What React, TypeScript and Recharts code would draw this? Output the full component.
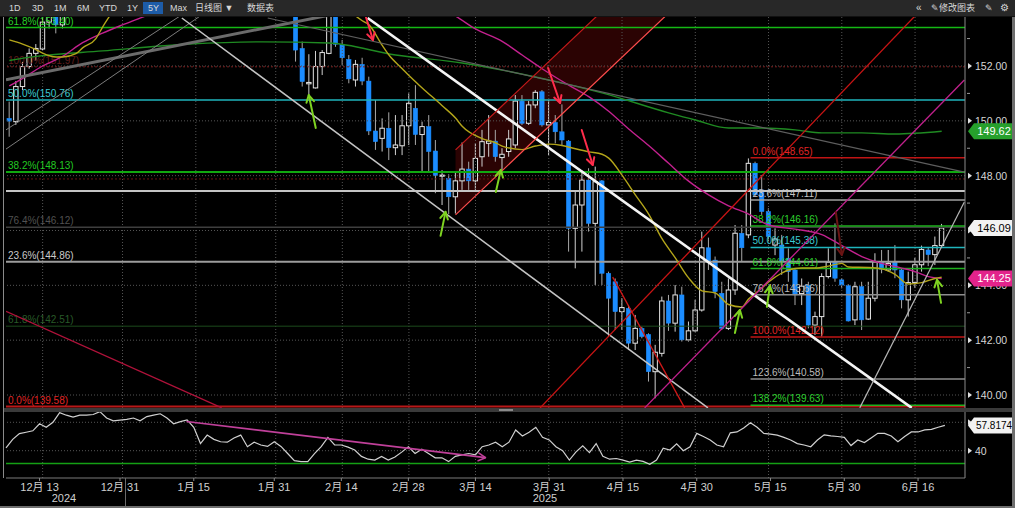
import React from 'react';
import {
  ComposedChart,
  Bar,
  Line,
  Area,
  XAxis,
  YAxis,
  ReferenceLine,
  ReferenceDot,
} from 'recharts';

// daily bars, one per weekday, 6 Dec 2024 .. 20 Jun 2025 (index 0..140)
const opens = [
  150.09, 149.97, 151.25, 151.98, 152.46, 152.62, 153.6, 154.1, 153.5, 154.8,
  157.4, 156.4, 157.1, 157.2, 157.1, 157.8, 157.9, 157.0, 157.2, 157.2,
  157.5, 157.3, 157.6, 158.0, 158.3, 158.1, 157.7, 157.5, 158.0, 156.5,
  155.2, 156.3, 155.6, 155.5, 156.6, 156.5, 156.0, 154.6, 155.5, 155.2,
  154.3, 155.2, 154.6, 154.3, 152.64, 151.35, 151.2, 151.98, 152.46, 154.3,
  152.79, 152.24, 151.49, 152.06, 151.45, 149.63, 149.36, 149.73, 149.02, 149.09,
  149.82, 150.46, 149.5, 149.79, 148.9, 147.98, 147.9, 147.23, 147.81, 148.24,
  147.81, 148.69, 149.18, 149.26, 148.66, 148.88, 149.12, 150.72, 149.91, 150.58,
  151.06, 149.85, 149.94, 149.6, 149.26, 146.08, 146.93, 147.84, 146.26, 147.81,
  144.44, 144.13, 143.04, 143.16, 141.89, 142.43, 142.21, 140.85, 141.52, 143.43,
  142.62, 143.65, 142.01, 142.34, 143.1, 145.37, 144.92, 143.71, 142.43, 143.83,
  145.9, 145.84, 148.45, 147.48, 146.69, 145.47, 145.47, 144.99, 144.56, 143.7,
  144.01, 142.55, 142.86, 144.32, 144.84, 144.2, 143.99, 142.74, 143.95, 142.77,
  143.53, 144.86, 144.56, 144.86, 144.56, 143.47, 144.1, 144.75, 145.29, 145.12,
  145.45,
];
const highs = [
  150.7, 151.45, 152.15, 152.64, 152.8, 153.9, 154.3, 154.2, 154.9, 157.9,
  157.9, 157.3, 157.4, 157.3, 158.0, 158.1, 158.0, 157.6, 157.4, 157.8,
  157.7, 158.4, 158.4, 158.5, 158.5, 158.9, 158.0, 158.2, 158.1, 156.7,
  156.4, 156.6, 156.4, 156.8, 156.8, 156.7, 156.2, 155.9, 155.9, 155.4,
  155.4, 155.9, 155.4, 154.6, 152.89, 152.43, 152.55, 152.58, 154.6, 154.5,
  152.95, 152.4, 152.22, 152.3, 151.61, 150.76, 150.09, 150.31, 150.21, 150.21,
  151.0, 151.3, 149.97, 150.21, 149.3, 148.2, 148.05, 148.15, 149.21, 148.51,
  149.18, 149.67, 150.21, 149.67, 149.0, 149.67, 150.94, 150.94, 150.72, 151.12,
  151.12, 150.76, 150.21, 150.6, 149.3, 147.42, 148.2, 148.27, 148.33, 147.84,
  144.5, 144.25, 143.53, 143.28, 142.92, 142.49, 142.25, 141.83, 143.59, 143.65,
  144.01, 143.95, 142.68, 143.47, 145.96, 145.74, 145.05, 144.13, 144.25, 146.2,
  146.2, 148.63, 148.51, 148.02, 146.81, 146.08, 145.84, 145.35, 144.62, 144.25,
  144.13, 143.04, 144.44, 145.35, 146.26, 144.26, 144.04, 144.13, 144.13, 144.13,
  145.17, 145.29, 145.29, 145.47, 144.62, 144.5, 145.0, 145.45, 145.4, 145.78,
  146.24,
];
const lows = [
  149.42, 149.85, 151.12, 151.9, 152.2, 152.58, 153.37, 153.19, 153.37, 154.4,
  155.5, 156.1, 156.9, 156.9, 157.0, 157.4, 156.9, 156.0, 157.0, 156.9,
  156.9, 157.2, 157.4, 157.8, 157.8, 157.6, 157.1, 157.4, 156.0, 154.8,
  155.0, 154.9, 154.8, 155.4, 155.9, 154.8, 153.8, 154.5, 154.9, 154.0,
  154.1, 154.2, 153.95, 152.16, 151.25, 150.95, 151.18, 151.67, 152.43, 152.7,
  152.04, 151.37, 151.25, 151.3, 149.48, 148.94, 148.88, 148.57, 148.75, 148.75,
  149.12, 149.12, 148.15, 148.15, 147.36, 146.93, 146.6, 146.62, 147.48, 147.48,
  147.48, 148.33, 148.69, 148.51, 148.2, 148.69, 149.0, 149.85, 149.85, 150.46,
  149.79, 148.75, 149.18, 149.12, 145.23, 144.62, 145.23, 145.96, 144.01, 144.01,
  142.13, 142.37, 142.37, 141.64, 141.64, 142.07, 140.49, 139.88, 141.4, 142.34,
  142.31, 141.95, 141.95, 142.31, 143.04, 144.56, 143.53, 142.37, 142.37, 143.65,
  144.86, 145.72, 147.23, 146.57, 145.6, 145.1, 144.38, 144.13, 143.28, 143.28,
  142.43, 142.19, 142.13, 144.25, 144.13, 143.89, 142.68, 142.55, 142.37, 142.74,
  143.41, 144.44, 144.5, 144.26, 143.16, 142.86, 143.9, 144.5, 144.7, 144.74,
  145.4,
];
const closes = [
  149.99, 151.25, 151.98, 152.46, 152.64, 153.6, 154.1, 153.5, 154.8, 157.4,
  156.4, 157.1, 157.2, 157.1, 157.8, 157.9, 157.0, 157.2, 157.2, 157.5,
  157.3, 157.6, 158.0, 158.3, 158.1, 157.7, 157.5, 158.0, 156.5, 155.2,
  156.3, 155.6, 155.5, 156.6, 156.5, 156.0, 154.6, 155.5, 155.2, 154.3,
  155.2, 154.6, 154.3, 152.58, 151.43, 151.4, 151.98, 152.49, 154.4, 152.79,
  152.3, 151.53, 152.06, 151.45, 149.63, 149.24, 149.73, 149.02, 149.12, 149.82,
  150.64, 149.5, 149.79, 148.88, 148.0, 148.02, 147.23, 147.81, 148.24, 147.81,
  148.63, 149.24, 149.26, 148.69, 148.78, 149.34, 150.72, 149.91, 150.58, 151.04,
  149.85, 149.94, 149.6, 149.3, 146.08, 146.93, 147.84, 146.26, 147.78, 144.44,
  143.53, 143.04, 143.19, 141.89, 142.43, 142.13, 140.85, 141.56, 143.43, 142.62,
  143.65, 142.01, 142.34, 143.1, 145.37, 144.89, 143.77, 142.43, 143.83, 145.9,
  145.37, 148.45, 147.3, 146.69, 145.78, 145.69, 144.86, 144.5, 143.65, 143.97,
  142.55, 142.86, 144.32, 144.84, 144.26, 144.01, 142.7, 143.95, 142.74, 143.53,
  144.86, 144.59, 144.8, 144.56, 143.47, 144.1, 144.75, 145.31, 145.12, 145.45,
  146.09,
];

const rsi14 = [
  42, 48, 52, 53, 54, 59, 56.5, 60, 66.8, 65,
  63.7, 65, 65, 65.5, 67.5, 63, 61, 61.5, 62, 63,
  61, 64, 65, 66, 63, 59, 60.5, 61.7, 56.5, 45,
  51, 48, 46.3, 46, 49, 51, 42.8, 46, 44, 43,
  46.3, 43, 38, 33, 32.3, 32.3, 38, 42.8, 49.4, 44,
  44, 42.5, 40.5, 36, 34, 33.4, 36, 33.4, 35.5, 39,
  42.8, 38, 41, 38, 35, 35, 32.3, 36, 37, 38,
  37, 42.8, 44, 46, 42.8, 46, 54.6, 50.3, 53, 56.5,
  49.4, 47.6, 42.8, 40, 33.4, 39.2, 43.4, 38.6, 45, 36,
  34, 34.5, 33.4, 32, 33.4, 32.5, 30.4, 33.4, 41.7, 40.5,
  44.8, 40, 42.8, 52.2, 50, 47.6, 44, 42.8, 52.6, 53.2,
  56, 59.7, 56.5, 52.2, 51.7, 51, 49.4, 47.5, 45, 44,
  42.8, 47.5, 51.2, 50.5, 50, 49.4, 43.6, 47.5, 45.7, 49,
  52.2, 52.2, 50.3, 46.3, 50, 53.2, 53.2, 54.6, 55, 56.5,
  57.8174,
];

// moving averages at [bar index, value]
const ma20Pts: [number, number][] = [
  [0, 152.95], [2, 152.8], [4, 152.6], [5, 152.47], [7, 152.33], [8, 152.33],
  [10, 152.45], [11, 152.66], [13, 153.0], [14, 153.42], [15, 153.8], [20, 155.4],
  [25, 156.8], [30, 157.0], [35, 156.6], [40, 155.9], [45, 155.0], [50, 154.2],
  [53, 153.65], [54, 153.5], [56, 152.75], [57, 152.4], [59, 151.9], [60, 151.65],
  [62, 151.2], [65, 150.55], [67, 150.1], [68, 149.8], [71, 149.35], [73, 149.2],
  [74, 149.08], [77, 148.95], [79, 149.08], [81, 149.15], [83, 149.1], [85, 148.98],
  [87, 148.87], [89, 148.78], [90, 148.64], [92, 148.02], [94, 147.3], [96, 146.6],
  [98, 145.7], [100, 145.0], [102, 144.27], [104, 143.8], [106, 143.72], [108, 143.3],
  [110, 143.21], [111, 143.5], [113, 143.9], [114, 144.12], [116, 144.45], [117, 144.56],
  [119, 144.63], [121, 144.63], [123, 144.7], [125, 144.8], [126, 144.67], [129, 144.65],
  [131, 144.6], [133, 144.4], [135, 144.05], [137, 144.1], [139, 144.25], [140, 144.3],
];
const ma50Pts: [number, number][] = [
  [0, 151.27], [2, 151.55], [5, 152.0], [8, 152.35], [11, 152.85], [14, 153.2],
  [17, 153.5], [20, 153.78], [25, 154.3], [35, 155.3], [45, 155.6], [55, 155.0],
  [62, 154.4], [67, 153.82], [70, 153.35], [74, 152.9], [77, 152.4], [80, 151.9],
  [84, 151.3], [87, 150.88], [90, 150.35], [93, 149.7], [96, 149.1], [99, 148.45],
  [102, 147.8], [105, 147.3], [108, 146.9], [111, 146.6], [114, 146.2], [118, 146.05],
  [122, 145.85], [125, 145.45], [128, 145.05], [131, 144.8], [134, 144.63], [136, 144.5],
  [138, 144.32], [140, 144.25],
];
const ma100Pts: [number, number][] = [
  [0, 152.2], [4, 152.35], [14, 152.55], [27, 152.8], [38, 152.88], [48, 152.84],
  [58, 152.4], [68, 152.11], [79, 151.6], [89, 151.02], [99, 150.29], [103, 150.03],
  [108, 149.74], [113, 149.74], [118, 149.67], [122, 149.56], [128, 149.56], [133, 149.52],
  [140, 149.62],
];

// rising red channel (shaded), low / high edge at two bars
const chanIdx = [67, 100];
const chanLow = [146.57, 154.16];
const chanHigh = [148.94, 156.53];

// drawn trend lines, [bar index, price] pairs
const trendLines: [number, number][][] = [
  [[-0.5, 151.5], [49.6, 153.93]],
  [[-0.5, 148.97], [29.3, 153.93]],
  [[-0.5, 149.67], [26.3, 153.93]],
  [[38.8, 153.75], [143.4, 148.13]],
  [[25.9, 153.75], [104.9, 139.53]],
  [[53.8, 153.75], [135.5, 139.53]],
  [[127.7, 139.53], [143.4, 147.04]],
  [[67, 148.94], [100, 156.53]],
  [[67, 146.57], [100, 154.16]],
  [[79.7, 139.53], [136.4, 153.93]],
  [[90.6, 144.3], [101.4, 139.53]],
  [[-0.5, 143.05], [31.9, 139.53]],
  [[95.4, 139.53], [143.4, 151.49]],
];
const TREND_STYLE = [
  { stroke: '#6b6b6b', w: 3 },
  { stroke: '#7c7c7c', w: 1 },
  { stroke: '#7c7c7c', w: 1 },
  { stroke: '#5e5e5e', w: 1.2 },
  { stroke: '#c4c4c4', w: 1.5 },
  { stroke: '#f4f4f4', w: 2.6 },
  { stroke: '#b5b5b5', w: 1.2 },
  { stroke: '#c41a1a', w: 1.2 },
  { stroke: '#ff4d4d', w: 1.2 },
  { stroke: '#c81414', w: 1.3 },
  { stroke: '#d01818', w: 1.3 },
  { stroke: '#b0123a', w: 1.3 },
  { stroke: '#c0208c', w: 1.3 },
];

// Fibonacci sets
const fibMainPct = ['61.8%', '100.0%', '50.0%', '38.2%', '76.4%', '23.6%', '61.8%', '0.0%'];
const fibMainVals = [153.4, 151.97, 150.76, 148.13, 146.12, 144.86, 142.51, 139.58];
const FIB_MAIN_STYLE = [
  { stroke: '#14b814', text: '#2ad02a', w: 1.5, dash: undefined },
  { stroke: '#7a1c1c', text: '#5e1c1c', w: 1, dash: '2 2' },
  { stroke: '#1fb5bd', text: '#3ccbd2', w: 1.5, dash: undefined },
  { stroke: '#10a810', text: '#22c822', w: 2, dash: undefined },
  { stroke: '#3e3e3e', text: '#515151', w: 1.5, dash: undefined },
  { stroke: '#9c9c9c', text: '#cacaca', w: 2, dash: undefined },
  { stroke: '#1c4a1c', text: '#285a28', w: 1, dash: undefined },
  { stroke: '#b81818', text: '#e02424', w: 2, dash: undefined },
];
const plainLevels = [147.88, 147.44];
const PLAIN_STYLE = [
  { stroke: '#6a1515', w: 1, dash: '2 2' },
  { stroke: '#c4c4c4', w: 2, dash: undefined },
];

const fibRightStart = 111.3;
const fibRightPct = ['0.0%', '23.6%', '38.2%', '50.0%', '61.8%', '76.4%', '100.0%', '123.6%', '138.2%'];
const fibRightVals = [148.65, 147.11, 146.16, 145.38, 144.61, 143.66, 142.12, 140.58, 139.63];
const FIB_RIGHT_STYLE = [
  { stroke: '#c01414', text: '#e02424' },
  { stroke: '#a0a0a0', text: '#c4c4c4' },
  { stroke: '#1fb01f', text: '#2ed02e' },
  { stroke: '#1fb5bd', text: '#3ccbd2' },
  { stroke: '#1fb01f', text: '#2ed02e' },
  { stroke: '#8e8e8e', text: '#bcbcbc' },
  { stroke: '#c01414', text: '#e02424' },
  { stroke: '#8e8e8e', text: '#bcbcbc' },
  { stroke: '#1fb01f', text: '#2ed02e' },
];

// arrow tips [bar index, price]
const greenTips: [number, number][] = [
  [44.96, 150.94], [65.5, 146.68], [73.8, 148.21], [109.7, 143.1], [114.2, 143.98], [139.3, 144.2],
];
const redTips: [number, number][] = [[54.6, 152.95], [82.7, 150.65], [87.6, 148.39], [125.0, 145.11]];
const GREEN_TAIL = [[7, 33], [-5, 24], [-5, 22], [-5, 23], [-3, 21], [4, 23]];
const RED_TAIL = [[-7, -23], [-12, -35], [-11, -35], [-6, -43]];
const RED_COLOR = ['#ff2d4b', '#ff2d4b', '#ff2d4b', '#6a1414'];

// RSI divergence arrow
const rsiArrow: [number, number][] = [[26.6, 60.6], [71.5, 35.1]];

const tickIdx = [5, 17, 28, 40, 50, 60, 70, 81, 92, 103, 114, 125, 136];
const tickLabels = [
  '12月 13', '12月 31', '1月 15', '1月 31', '2月 14', '2月 28', '3月 14',
  '3月 31', '4月 15', '4月 30', '5月 15', '5月 30', '6月 16',
];
const priceTicks = [140, 141, 142, 143, 144, 145, 146, 147, 148, 149, 150, 151, 152, 153];
const hiddenPriceLabels = [146];
const lastVals = [149.62, 146.09, 144.25];
const rsiTicks = [40, 60];
const rsiLabelled = [40];
const rsiLast = 57.8174;

const N_SLOTS = 144;
const FONT = "'Liberation Sans', Arial, 'Noto Sans CJK SC', sans-serif";

const m20 = new Map(ma20Pts);
const m50 = new Map(ma50Pts);
const m100 = new Map(ma100Pts);

const rows = Array.from({ length: N_SLOTS }, (_, i) => {
  const has = i < opens.length;
  const ci = chanIdx.indexOf(i);
  return {
    i,
    range: has ? [lows[i], highs[i]] : null,
    o: has ? opens[i] : null,
    h: has ? highs[i] : null,
    l: has ? lows[i] : null,
    c: has ? closes[i] : null,
    rsi: has ? rsi14[i] : null,
    ma20: m20.has(i) ? m20.get(i) : null,
    ma50: m50.has(i) ? m50.get(i) : null,
    ma100: m100.has(i) ? m100.get(i) : null,
    chan: ci >= 0 ? [chanLow[ci], chanHigh[ci]] : null,
  };
});

function Candle(props: any) {
  const { x, y, width, height, payload } = props;
  if (!payload || payload.o == null) return null;
  const { o, h, l, c } = payload;
  const top = height >= 0 ? y : y + height;
  const full = Math.abs(height);
  const k = full / (h - l || 1);
  const cx = x + width / 2;
  const yo = top + (h - o) * k;
  const yc = top + (h - c) * k;
  const up = c >= o;
  const bt = Math.min(yo, yc);
  const bh = Math.max(Math.abs(yc - yo), 1);
  const bw = 4.4;
  return (
    <g>
      <line x1={cx} x2={cx} y1={top} y2={top + full} stroke={up ? '#d0d0d0' : '#a8a8a8'} strokeWidth={1} />
      <rect
        x={cx - bw / 2}
        y={bt}
        width={bw}
        height={bh}
        fill={up ? '#000' : '#1b8cff'}
        stroke={up ? '#e4e4e4' : '#1b8cff'}
        strokeWidth={up ? 1 : 0.5}
      />
    </g>
  );
}

function Arrow(props: any) {
  const { cx, cy, dx, dy, color, w = 2, shaft = true } = props;
  if (cx == null || cy == null) return null;
  const len = Math.hypot(dx, dy);
  const ux = dx / len;
  const uy = dy / len;
  const hl = 8;
  const rot = (a: number) => [
    cx + hl * (ux * Math.cos(a) - uy * Math.sin(a)),
    cy + hl * (ux * Math.sin(a) + uy * Math.cos(a)),
  ];
  const [x1, y1] = rot(0.5);
  const [x2, y2] = rot(-0.5);
  return (
    <g stroke={color} strokeWidth={w} strokeLinecap="round" strokeLinejoin="round" fill="none">
      {shaft && <line x1={cx} y1={cy} x2={cx + dx} y2={cy + dy} />}
      <polyline points={`${x1},${y1} ${cx},${cy} ${x2},${y2}`} />
    </g>
  );
}

const fibLabel = (text: string, color: string) => (p: any) => {
  const vb = p.viewBox || {};
  return (
    <text x={(vb.x ?? 0) + 2} y={(vb.y ?? 0) - 3} fill={color} fontSize={10} fontFamily={FONT}>
      {text}
    </text>
  );
};

function ValueBox({ x, y, bg, fg, text, size = 11 }: any) {
  return (
    <g>
      <polygon
        points={`${x + 1},${y} ${x + 7},${y - 8} ${x + 47},${y - 8} ${x + 47},${y + 8} ${x + 7},${y + 8}`}
        fill={bg}
      />
      <text x={x + 27} y={y + 4} textAnchor="middle" fill={fg} fontSize={size} fontFamily={FONT}>
        {text}
      </text>
    </g>
  );
}

const BOX_STYLE: Record<string, { bg: string; fg: string }> = {
  '149.62': { bg: '#26a02c', fg: '#ffffff' },
  '146.09': { bg: '#f2f2f2', fg: '#000000' },
  '144.25': { bg: '#e2238b', fg: '#ffffff' },
};

function Pointer({ x, y }: any) {
  return <polygon points={`${x + 1},${y - 3} ${x + 5},${y} ${x + 1},${y + 3}`} fill="#e0e0e0" />;
}

function PriceTick(props: any) {
  const { x, y, payload } = props;
  const v = payload.value;
  const box = BOX_STYLE[v.toFixed(2)];
  if (lastVals.includes(v) && box) {
    return <ValueBox x={x} y={y} bg={box.bg} fg={box.fg} text={v.toFixed(2)} />;
  }
  if (v % 2 === 1) {
    return <line x1={x} x2={x + 3} y1={y} y2={y} stroke="#9a9a9a" />;
  }
  if (hiddenPriceLabels.includes(v)) return <Pointer x={x} y={y} />;
  return (
    <g>
      <Pointer x={x} y={y} />
      <text x={x + 8} y={y + 4} fill="#d6d6d6" fontSize={10.5} fontFamily={FONT}>
        {v.toFixed(2)}
      </text>
    </g>
  );
}

function RsiTick(props: any) {
  const { x, y, payload } = props;
  const v = payload.value;
  if (v === rsiLast) {
    return <ValueBox x={x} y={y} bg="#f2f2f2" fg="#000" text={String(v)} size={10} />;
  }
  if (!rsiLabelled.includes(v)) return <Pointer x={x} y={y} />;
  return (
    <g>
      <Pointer x={x} y={y} />
      <text x={x + 8} y={y + 4} fill="#d6d6d6" fontSize={10.5} fontFamily={FONT}>
        {v}
      </text>
    </g>
  );
}

function DateTick(props: any) {
  const { x, y, payload } = props;
  const k = tickIdx.indexOf(payload.value);
  if (k < 0) return null;
  return (
    <text x={x} y={y + 8} textAnchor="middle" fill="#cfcfcf" fontSize={11} fontFamily={FONT}>
      {tickLabels[k]}
    </text>
  );
}

const toolbarLeft: [string, number][] = [
  ['1D', 9], ['3D', 32], ['1M', 54], ['6M', 77], ['YTD', 99], ['1Y', 127], ['5Y', 148],
  ['Max', 170], ['日线图 ▼', 195], ['数据表', 247],
];

export default function App() {
  const axisN = { xAxisId: 'n', yAxisId: 'p' } as const;
  return (
    <div
      style={{
        position: 'absolute',
        left: 0,
        top: 0,
        width: 1015,
        height: 508,
        background: '#000',
        overflow: 'hidden',
        fontFamily: FONT,
      }}
    >
      {/* toolbar */}
      <div
        style={{
          position: 'absolute',
          left: 0,
          top: 0,
          width: 1015,
          height: 16,
          background: '#282828',
          borderBottom: '1px solid #111',
          zIndex: 2,
          color: '#d8d8d8',
          fontSize: 9,
        }}
      >
        <div style={{ position: 'absolute', left: 143, top: 2, width: 20, height: 12, background: '#1d5ca8' }} />
        {toolbarLeft.map(([t, l]) => (
          <span key={t} style={{ position: 'absolute', left: l, top: 2, lineHeight: '12px', whiteSpace: 'nowrap' }}>
            {t}
          </span>
        ))}
        <span style={{ position: 'absolute', left: 916, top: 1, lineHeight: '13px', fontSize: 10 }}>«</span>
        <span style={{ position: 'absolute', left: 931, top: 2, lineHeight: '12px' }}>✎修改图表</span>
        <span style={{ position: 'absolute', left: 985, top: 2, lineHeight: '12px' }}>✎</span>
        <span style={{ position: 'absolute', left: 1000, top: 1, lineHeight: '13px', fontSize: 10 }}>⚙</span>
      </div>

      {/* price panel */}
      <div style={{ position: 'absolute', left: 0, top: 17 }}>
        <ComposedChart width={1015} height={391} data={rows} margin={{ top: 0, right: 0, bottom: 0, left: 6 }}>
          <XAxis xAxisId="c" dataKey="i" type="category" hide />
          <XAxis xAxisId="n" dataKey="i" type="number" domain={[-0.5, 143.5]} allowDataOverflow hide />
          <YAxis
            yAxisId="p"
            orientation="right"
            width={50}
            domain={[139.526, 153.787]}
            allowDataOverflow
            ticks={[...priceTicks, ...lastVals]}
            interval={0}
            tick={<PriceTick />}
            tickSize={0}
            tickLine={false}
            axisLine={{ stroke: '#8a8a8a' }}
          />

          {tickIdx.map((t) => (
            <ReferenceLine key={`gx${t}`} {...axisN} x={t} stroke="#555" strokeDasharray="1 2" />
          ))}
          {priceTicks.filter((v) => v % 2 === 0).map((v) => (
            <ReferenceLine key={`gy${v}`} {...axisN} y={v} stroke="#555" strokeDasharray="1 2" />
          ))}

          {plainLevels.map((v, k) => (
            <ReferenceLine
              key={`pl${k}`}
              {...axisN}
              y={v}
              stroke={PLAIN_STYLE[k].stroke}
              strokeWidth={PLAIN_STYLE[k].w}
              strokeDasharray={PLAIN_STYLE[k].dash}
            />
          ))}
          {fibMainVals.map((v, k) => (
            <ReferenceLine
              key={`fm${k}`}
              {...axisN}
              y={v}
              stroke={FIB_MAIN_STYLE[k].stroke}
              strokeWidth={FIB_MAIN_STYLE[k].w}
              strokeDasharray={FIB_MAIN_STYLE[k].dash}
              label={fibLabel(`${fibMainPct[k]}(${v.toFixed(2)})`, FIB_MAIN_STYLE[k].text)}
            />
          ))}
          {fibRightVals.map((v, k) => (
            <ReferenceLine
              key={`fr${k}`}
              {...axisN}
              segment={[{ x: fibRightStart, y: v }, { x: 143.5, y: v }]}
              stroke={FIB_RIGHT_STYLE[k].stroke}
              strokeWidth={1.5}
              ifOverflow="hidden"
              label={fibLabel(`${fibRightPct[k]}(${v.toFixed(2)})`, FIB_RIGHT_STYLE[k].text)}
            />
          ))}

          <Area
            xAxisId="c"
            yAxisId="p"
            dataKey="chan"
            type="linear"
            connectNulls
            stroke="none"
            fill="#330404"
            fillOpacity={0.85}
            isAnimationActive={false}
          />

          <Bar xAxisId="c" yAxisId="p" dataKey="range" shape={<Candle />} isAnimationActive={false} />

          <Line xAxisId="c" yAxisId="p" dataKey="ma100" type="monotone" stroke="#1f8a22" strokeWidth={1.4} dot={false} connectNulls isAnimationActive={false} />
          <Line xAxisId="c" yAxisId="p" dataKey="ma50" type="monotone" stroke="#c2218e" strokeWidth={1.4} dot={false} connectNulls isAnimationActive={false} />
          <Line xAxisId="c" yAxisId="p" dataKey="ma20" type="monotone" stroke="#b3a51a" strokeWidth={1.4} dot={false} connectNulls isAnimationActive={false} />

          {trendLines.map((seg, k) => (
            <ReferenceLine
              key={`tl${k}`}
              {...axisN}
              segment={[{ x: seg[0][0], y: seg[0][1] }, { x: seg[1][0], y: seg[1][1] }]}
              stroke={TREND_STYLE[k].stroke}
              strokeWidth={TREND_STYLE[k].w}
              ifOverflow="hidden"
            />
          ))}

          {greenTips.map(([x, y], k) => (
            <ReferenceDot
              key={`ga${k}`}
              {...axisN}
              x={x}
              y={y}
              shape={(p: any) => <Arrow cx={p.cx} cy={p.cy} dx={GREEN_TAIL[k][0]} dy={GREEN_TAIL[k][1]} color="#7ed321" />}
            />
          ))}
          {redTips.map(([x, y], k) => (
            <ReferenceDot
              key={`ra${k}`}
              {...axisN}
              x={x}
              y={y}
              shape={(p: any) => <Arrow cx={p.cx} cy={p.cy} dx={RED_TAIL[k][0]} dy={RED_TAIL[k][1]} color={RED_COLOR[k]} />}
            />
          ))}
        </ComposedChart>
      </div>

      {/* splitter */}
      <div style={{ position: 'absolute', left: 4, top: 408, width: 1008, height: 4, background: '#3a3a3a' }} />
      <div style={{ position: 'absolute', left: 499, top: 409, width: 14, height: 2, background: '#8a8a8a' }} />

      {/* RSI panel */}
      <div style={{ position: 'absolute', left: 0, top: 412 }}>
        <ComposedChart width={1015} height={96} data={rows} margin={{ top: 0, right: 0, bottom: 0, left: 6 }}>
          <XAxis
            xAxisId="c"
            dataKey="i"
            type="category"
            ticks={tickIdx}
            interval={0}
            height={30}
            tick={<DateTick />}
            tickSize={3}
            tickMargin={2}
            tickLine={{ stroke: '#8a8a8a' }}
            axisLine={{ stroke: '#7a7a7a' }}
          />
          <XAxis xAxisId="n" dataKey="i" type="number" domain={[-0.5, 143.5]} allowDataOverflow hide />
          <YAxis
            yAxisId="r"
            orientation="right"
            width={50}
            domain={[20.77, 67.25]}
            allowDataOverflow
            ticks={[...rsiTicks, rsiLast]}
            interval={0}
            tick={<RsiTick />}
            tickSize={0}
            tickLine={false}
            axisLine={{ stroke: '#8a8a8a' }}
          />
          {tickIdx.map((t) => (
            <ReferenceLine key={`rx${t}`} xAxisId="n" yAxisId="r" x={t} stroke="#555" strokeDasharray="1 2" />
          ))}
          {rsiTicks.map((v) => (
            <ReferenceLine key={`ry${v}`} xAxisId="n" yAxisId="r" y={v} stroke="#555" strokeDasharray="1 2" />
          ))}
          <ReferenceLine xAxisId="n" yAxisId="r" y={31} stroke="#14a014" strokeWidth={1.5} />
          <Line xAxisId="c" yAxisId="r" dataKey="rsi" type="linear" stroke="#d0d0d0" strokeWidth={1.2} dot={false} isAnimationActive={false} />
          <ReferenceLine
            xAxisId="n"
            yAxisId="r"
            segment={[{ x: rsiArrow[0][0], y: rsiArrow[0][1] }, { x: rsiArrow[1][0], y: rsiArrow[1][1] }]}
            stroke="#c0409a"
            strokeWidth={1.6}
            ifOverflow="hidden"
          />
          <ReferenceDot
            xAxisId="n"
            yAxisId="r"
            x={rsiArrow[1][0]}
            y={rsiArrow[1][1]}
            shape={(p: any) => <Arrow cx={p.cx} cy={p.cy} dx={-300} dy={-35} color="#c0409a" w={1.6} shaft={false} />}
          />
        </ComposedChart>
      </div>

      {/* year row */}
      <div style={{ position: 'absolute', left: 125, top: 478, width: 1, height: 30, background: '#6a6a6a' }} />
      <div style={{ position: 'absolute', left: 44, top: 492, width: 40, textAlign: 'center', fontSize: 11, color: '#cfcfcf' }}>2024</div>
      <div style={{ position: 'absolute', left: 525, top: 492, width: 40, textAlign: 'center', fontSize: 11, color: '#cfcfcf' }}>2025</div>

      {/* frame */}
      <div style={{ position: 'absolute', left: 3, top: 17, width: 1, height: 461, background: '#8a8a8a' }} />
      <div style={{ position: 'absolute', left: 1012, top: 0, width: 3, height: 508, background: '#6e6e6e' }} />
      <div style={{ position: 'absolute', left: 0, top: 506, width: 1015, height: 2, background: '#6e6e6e' }} />
    </div>
  );
}
